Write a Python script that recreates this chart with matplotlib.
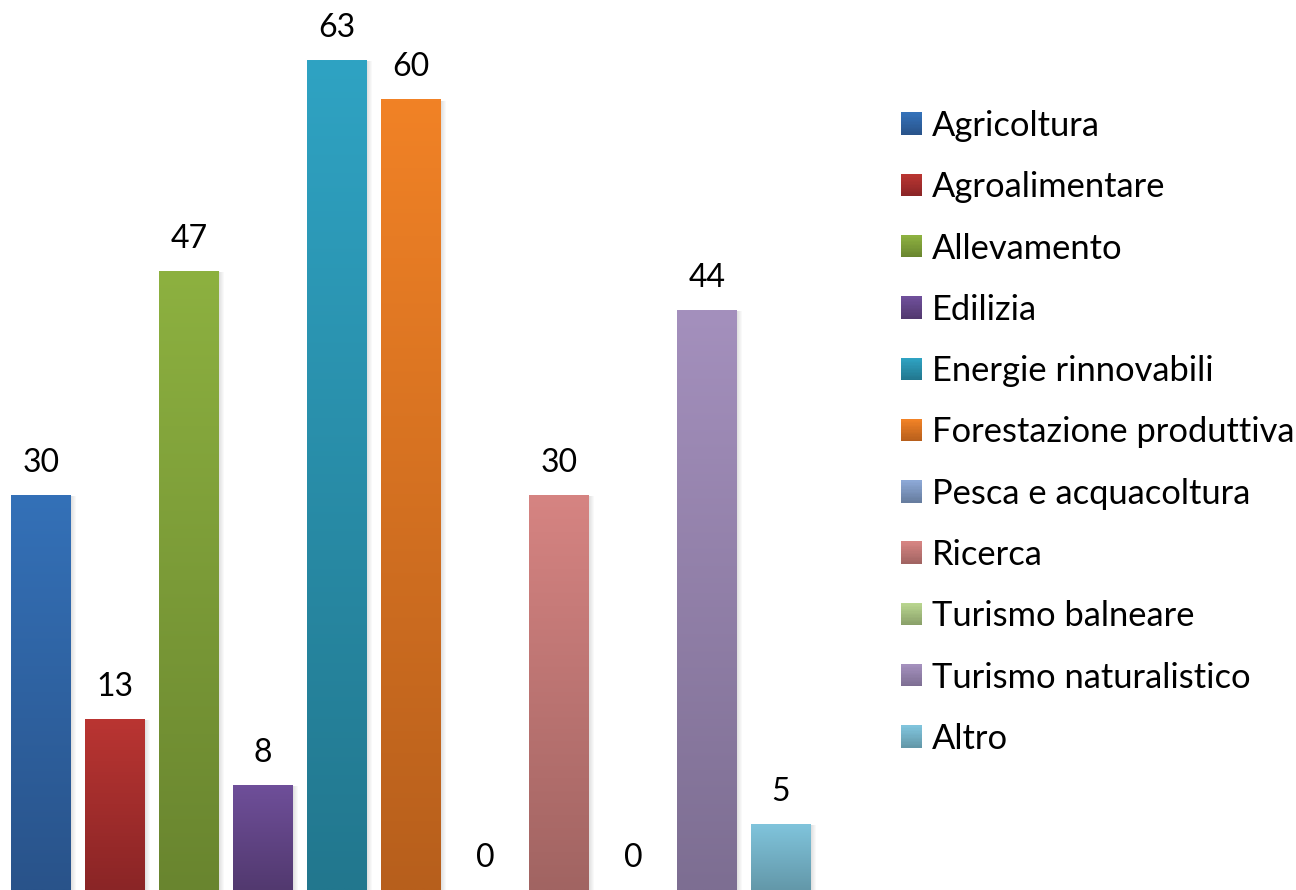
import numpy as np
import matplotlib
matplotlib.use("Agg")
from matplotlib import pyplot as plt
from matplotlib.patches import Rectangle, Patch
from matplotlib.colors import to_rgb

# data
categories = ["Agricoltura", "Agroalimentare", "Allevamento", "Edilizia",
              "Energie rinnovabili", "Forestazione produttiva",
              "Pesca e acquacoltura", "Ricerca", "Turismo balneare",
              "Turismo naturalistico", "Altro"]
values = [30, 13, 47, 8, 63, 60, 0, 30, 0, 44, 5]

# gradient colours (top, bottom) for each series
top_colors = ["#3471B8", "#BA3532", "#8DB140", "#6F4F9A", "#2FA3C3", "#F18226",
              "#8CA8D6", "#D68482", "#B9D68F", "#A490BD", "#80C4DC"]
bottom_colors = ["#29538A", "#8A2526", "#69852F", "#52396F", "#22778E", "#B75F1C",
                 "#677D9F", "#A16462", "#8AA06A", "#7D6E92", "#6398A9"]

plt.rcParams['font.family'] = ['Lato', 'DejaVu Sans']

W, H = 1296, 890
fig = plt.figure(figsize=(W / 100, H / 100), dpi=100)
ax = fig.add_axes([0, 0, 850 / W, 1])

step = 74.0      # px between bar centres
px_per_unit = 13.18
x = np.arange(len(values))
bars = ax.bar(x, values, width=60 / step, color=top_colors, zorder=2, linewidth=0)

ax.set_xlim(-41 / step, -41 / step + 850 / step)
ax.set_ylim(0, H / px_per_unit)
ax.axis('off')


def gradient(top, bottom, n=256):
    t = np.linspace(0, 1, n)[:, None]
    a = np.array(to_rgb(top))
    b = np.array(to_rgb(bottom))
    return (a * (1 - t) + b * t)[:, None, :]


for b, v, tc, bc in zip(bars, values, top_colors, bottom_colors):
    bx, bw, bh = b.get_x(), b.get_width(), b.get_height()
    if bh <= 0:
        continue
    # soft shadow on the right
    for k in range(1, 6):
        ax.add_patch(Rectangle((bx + bw, 0), k * 1.0 / step, bh - 0.1,
                               color="black", alpha=0.025, zorder=1, linewidth=0))
    im = ax.imshow(gradient(tc, bc), extent=(bx, bx + bw, 0, bh),
                   aspect='auto', zorder=3, interpolation='bilinear')
    im.set_clip_path(b)

for b, v in zip(bars, values):
    ax.annotate(str(v), (b.get_x() + b.get_width() / 2, v),
                xytext=(0, 23), textcoords='offset points',
                ha='center', va='center', fontsize=23, color='black')


class GradientHandler:
    def __init__(self, top, bottom):
        self.top = top
        self.bottom = bottom

    def legend_artist(self, legend, orig_handle, fontsize, handlebox):
        x0, y0 = -handlebox.xdescent, -handlebox.ydescent
        w, h = handlebox.width, handlebox.height
        n = 16
        a = np.array(to_rgb(self.top))
        c = np.array(to_rgb(self.bottom))
        for k in range(n):
            t = k / (n - 1)
            col = c * (1 - t) + a * t
            r = Rectangle((x0, y0 + h * k / n), w, h / n + 0.3, color=col,
                          linewidth=0, transform=handlebox.get_transform())
            handlebox.add_artist(r)
        return r


handles = [Patch(label=c) for c in categories]
hmap = {hd: GradientHandler(t, bt) for hd, t, bt in zip(handles, top_colors, bottom_colors)}
fig.legend(handles=handles, handler_map=hmap, loc='upper left',
           bbox_to_anchor=(901 / W, 1 - 110 / H), frameon=False, fontsize=24.8,
           handlelength=0.61, handleheight=0.61, handletextpad=0.3,
           labelspacing=0.85, borderaxespad=0, borderpad=0)

fig.savefig("out.png", dpi=100)
